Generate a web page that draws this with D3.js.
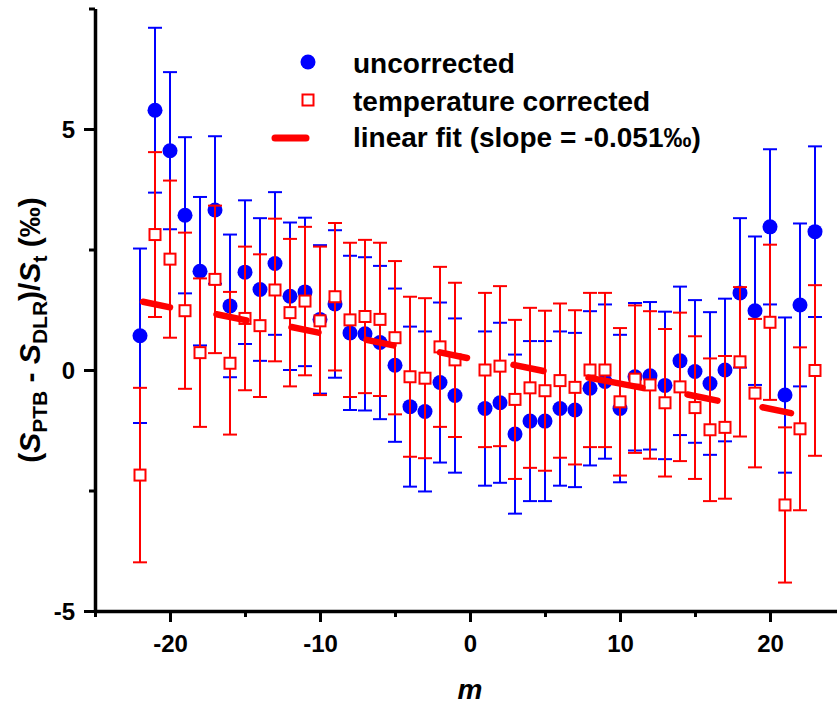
<!DOCTYPE html>
<html><head><meta charset="utf-8">
<script src="https://cdn.jsdelivr.net/npm/d3@7"></script>
<style>body{margin:0;background:#fff} text{font-family:"Liberation Sans",Arial,sans-serif;font-weight:bold}</style>
</head><body><svg id="c" width="837" height="707"></svg>
<script>
// ---- data ----
const mValues = [-22,-21,-20,-19,-18,-17,-16,-15,-14,-13,-12,-11,-10,-9,-8,-7,-6,-5,-4,-3,-2,-1,
                 1,2,3,4,5,6,7,8,9,10,11,12,13,14,15,16,17,18,19,20,21,22,23];
const uncorrected = [0.71,5.39,4.55,3.21,2.05,3.32,1.33,2.03,1.67,2.21,1.53,1.62,1.05,1.37,0.77,0.75,0.57,0.10,-0.76,-0.86,-0.26,-0.53,
                     -0.80,-0.68,-1.33,-1.06,-1.06,-0.80,-0.83,-0.38,-0.24,-0.80,-0.14,-0.12,-0.32,0.19,-0.03,-0.28,0.00,1.60,1.23,2.97,-0.52,1.35,2.87];
const corrected = [-2.18,2.81,2.30,1.23,0.36,1.88,0.14,1.07,0.92,1.66,1.19,1.43,1.02,1.52,1.04,1.11,1.05,0.67,-0.14,-0.17,0.48,0.21,
                   0.00,0.08,-0.61,-0.37,-0.43,-0.22,-0.36,0.00,0.00,-0.66,-0.19,-0.31,-0.68,-0.35,-0.78,-1.24,-1.19,0.17,-0.48,0.99,-2.80,-1.22,-0.01];
const errors = [1.81,1.71,1.63,1.62,1.54,1.53,1.48,1.49,1.48,1.48,1.53,1.54,1.54,1.53,1.60,1.59,1.59,1.59,1.66,1.66,1.66,1.60,
                1.60,1.66,1.65,1.66,1.66,1.60,1.60,1.60,1.60,1.53,1.53,1.53,1.53,1.54,1.48,1.48,1.48,1.55,1.54,1.61,1.61,1.69,1.77];
const fitIntercept = 0.25;
const fitSlope = -0.053;
// visible dashes of the linear fit, as ranges of m
const fitDashes = [[-22,-19.8],[-17.1,-14.7],[-12.1,-9.9],[-7.1,-4.9],[-2.2,0],[2.7,5.1],[7.7,11.7],[14.3,16.7],[19.3,21.6]];
const xMajorTicks = [-20,-10,0,10,20];
const xMinorTicks = [-25,-15,-5,5,15,25];
const yMajorTicks = [-5,0,5];
const yMinorTicks = [-2.5,2.5,7.5];
const legendLabels = ["uncorrected","temperature corrected","linear fit (slope = -0.051‰)"];

// ---- chart ----
const svg = d3.select("#c");
const x = d3.scaleLinear().domain([-25,25]).range([95,845]);
const y = d3.scaleLinear().domain([-5,7.5]).range([611,8.5]);
const blue = "#0000ff", red = "#ff0000";

const pts = mValues.map((m,i)=>({m, u:uncorrected[i], c:corrected[i], e:errors[i]}));

function errorBars(key, color){
  const g = svg.append("g").attr("stroke", color).attr("stroke-width", 2).attr("fill","none");
  pts.forEach(d=>{
    const cx = x(d.m), v = d[key];
    g.append("line").attr("x1",cx).attr("x2",cx).attr("y1",y(v+d.e)).attr("y2",y(v-d.e));
    g.append("line").attr("x1",cx-7).attr("x2",cx+7).attr("y1",y(v+d.e)).attr("y2",y(v+d.e));
    g.append("line").attr("x1",cx-7).attr("x2",cx+7).attr("y1",y(v-d.e)).attr("y2",y(v-d.e));
  });
}
errorBars("u", blue);
svg.append("g").selectAll("circle").data(pts).join("circle")
  .attr("cx",d=>x(d.m)).attr("cy",d=>y(d.u)).attr("r",7.5).attr("fill",blue);
errorBars("c", red);
svg.append("g").selectAll("rect").data(pts).join("rect")
  .attr("x",d=>x(d.m)-5.5).attr("y",d=>y(d.c)-5.5).attr("width",11).attr("height",11)
  .attr("fill","#fff").attr("stroke",red).attr("stroke-width",2);

// fit line (dashed)
const fitY = m => fitIntercept + fitSlope*m;
svg.append("g").selectAll("line").data(fitDashes).join("line")
  .attr("x1",d=>x(d[0])+3).attr("y1",d=>y(fitY(d[0])))
  .attr("x2",d=>x(d[1])-3).attr("y2",d=>y(fitY(d[1])))
  .attr("stroke",red).attr("stroke-width",6.5).attr("stroke-linecap","round");

// axes
function styleAxis(g){
  g.selectAll("path").attr("stroke","#000").attr("stroke-width",3.5);
  g.selectAll("line").attr("stroke","#000").attr("stroke-width",3);
  g.selectAll("text").attr("fill","#000").style("font-size","24px");
}
const xa = svg.append("g").attr("transform","translate(0,611)")
  .call(d3.axisBottom(x).tickValues(xMajorTicks).tickSize(11).tickSizeOuter(0).tickFormat(d=>String(d)));
xa.call(styleAxis);
xa.selectAll("text").attr("y",41).attr("dy",0);
const xm = svg.append("g").attr("transform","translate(0,611)")
  .call(d3.axisBottom(x).tickValues(xMinorTicks).tickSize(6).tickFormat(""));
xm.select("path").remove(); xm.call(styleAxis);

const ya = svg.append("g").attr("transform","translate(95,0)")
  .call(d3.axisLeft(y).tickValues(yMajorTicks).tickSize(11).tickSizeOuter(0).tickFormat(d=>String(d)));
ya.call(styleAxis);
ya.selectAll("text").attr("x",-20).attr("dy","0.36em");
const ym = svg.append("g").attr("transform","translate(95,0)")
  .call(d3.axisLeft(y).tickValues(yMinorTicks).tickSize(6).tickFormat(""));
ym.select("path").remove(); ym.call(styleAxis);

// axis titles
svg.append("text").attr("x",470).attr("y",699).attr("text-anchor","middle")
  .style("font-size","28px").style("font-style","italic").text("m");

const yl = svg.append("text").attr("transform","translate(40,330) rotate(-90)")
  .attr("text-anchor","middle").style("font-size","30px");
yl.append("tspan").text("(");
yl.append("tspan").style("font-style","italic").text("S");
yl.append("tspan").attr("dy",7).style("font-size","21px").text("PTB");
yl.append("tspan").attr("dy",-7).text(" - ");
yl.append("tspan").style("font-style","italic").text("S");
yl.append("tspan").attr("dy",7).style("font-size","21px").text("DLR");
yl.append("tspan").attr("dy",-7).text(")/");
yl.append("tspan").style("font-style","italic").text("S");
yl.append("tspan").attr("dy",7).style("font-size","21px").text("t");
yl.append("tspan").attr("dy",-7).text(" (‰)");

// legend
const lg = svg.append("g");
lg.append("circle").attr("cx",308).attr("cy",62).attr("r",7.5).attr("fill",blue);
lg.append("rect").attr("x",302.5).attr("y",94.5).attr("width",11).attr("height",11)
  .attr("fill","#fff").attr("stroke",red).attr("stroke-width",2);
lg.append("line").attr("x1",275).attr("x2",306).attr("y1",138).attr("y2",138)
  .attr("stroke",red).attr("stroke-width",7).attr("stroke-linecap","round");
lg.selectAll("text").data(legendLabels).join("text")
  .attr("x",353).attr("y",(d,i)=>[73,110.5,147][i]).style("font-size","28px").text(d=>d);
</script></body></html>
